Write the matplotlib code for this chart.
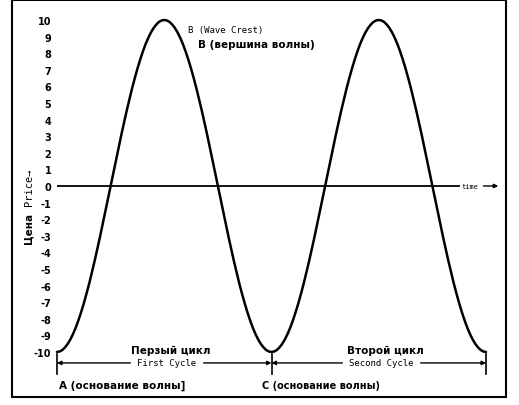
import numpy as np
import matplotlib.pyplot as plt
from matplotlib.patches import Rectangle

rise = [-10, -9.97, -9.88, -9.72, -9.51, -9.24, -8.91, -8.53, -8.09, -7.6,
        -7.07, -6.49, -5.88, -5.22, -4.54, -3.83, -3.09, -2.33, -1.56, -0.78,
        0, 0.78, 1.56, 2.33, 3.09, 3.83, 4.54, 5.22, 5.88, 6.49,
        7.07, 7.6, 8.09, 8.53, 8.91, 9.24, 9.51, 9.72, 9.88, 9.97, 10]
price = rise + rise[::-1][1:] + rise[1:] + rise[::-1][1:]
t = [i * 0.25 for i in range(len(price))]
yticks = list(range(-10, 11))
cycle_edges = [0, 20, 40]
cycle_names = ["First Cycle", "Second Cycle"]
cycle_names_ru = ["Перзый цикл", "Второй цикл"]

fig = plt.figure(figsize=(5.19, 4.06), dpi=100)
ax = fig.add_axes([57/519, 0.0897, 448/519, 0.8856])
ax.set_xlim(0, 41.77)
ax.set_ylim(-11, 10.66)
for s in ax.spines.values():
    s.set_visible(False)
ax.set_xticks([])
ax.set_yticks(yticks)
ax.set_yticklabels([str(v) for v in yticks], fontsize=7, fontweight='bold')
ax.tick_params(axis='y', length=0, pad=4)

ax.plot(t, price, color='black', lw=1.8, solid_capstyle='round', clip_on=False)

# time axis
ax.plot([0, 37.5], [0, 0], color='black', lw=1.3)
ax.text(38.5, 0, "time", fontsize=5, ha='center', va='center', family='DejaVu Sans Mono')
ax.annotate("", xy=(41.4, 0), xytext=(39.5, 0),
            arrowprops=dict(arrowstyle='-|>', color='black', lw=1, mutation_scale=6))

# cycle brackets
for x in cycle_edges:
    ax.plot([x, x], [-10.1, -11.3], color='black', lw=1.2, clip_on=False)
for i in range(2):
    a, b = cycle_edges[i], cycle_edges[i + 1]
    ax.annotate("", xy=(a, -10.66), xytext=(b, -10.66),
                arrowprops=dict(arrowstyle='<|-|>', color='black', lw=1, mutation_scale=6,
                                shrinkA=0, shrinkB=0), annotation_clip=False)
    ax.text((a + b) / 2 + 0.2, -10.66, cycle_names[i], fontsize=6.5, ha='center', va='center',
            family='DejaVu Sans Mono', backgroundcolor='white', clip_on=False)
    ax.text((a + b) / 2 + 0.6, -9.85, cycle_names_ru[i], fontsize=7.5, fontweight='bold',
            ha='center', va='center')

ax.text(0.2, -12.0, "А (основание волны]", fontsize=7.5, fontweight='bold', ha='left', va='center', clip_on=False)
ax.text(19.1, -12.0, "С (основание волны)", fontsize=7, fontweight='bold', ha='left', va='center', clip_on=False)
ax.text(12.2, 9.4, "B (Wave Crest)", fontsize=6.5, family='DejaVu Sans Mono', ha='left', va='center')
ax.text(13.1, 8.55, "В (вершина волны)", fontsize=7.5, fontweight='bold', ha='left', va='center')

# vertical axis label
fig.text(29/519, 1 - 228/406, "Цена", rotation=90, fontsize=7.5, fontweight='bold', ha='center', va='center')
fig.text(29/519, 1 - 187/406, "Price→", rotation=90, fontsize=7.5, family='DejaVu Sans Mono',
         ha='center', va='center')

# outer frame
fig.patches.append(Rectangle((12/519, 8/406), 494/519, 397/406, transform=fig.transFigure,
                             fill=False, edgecolor='black', lw=1.5))

fig.savefig("out.png", dpi=100)
